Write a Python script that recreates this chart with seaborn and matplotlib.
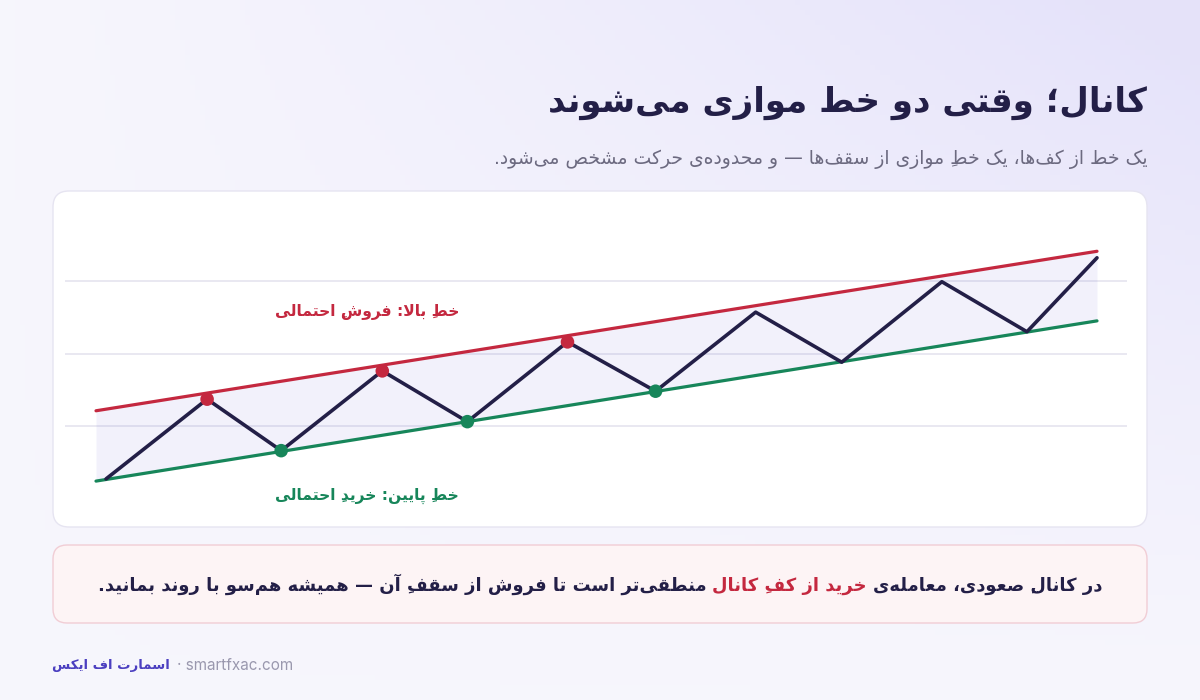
import numpy as np
import matplotlib
matplotlib.use("Agg")
import matplotlib.pyplot as plt
import seaborn as sns
import pandas as pd
from matplotlib.patches import FancyBboxPatch
from matplotlib.offsetbox import TextArea, HPacker, AnnotationBbox

# ---------------- data ----------------
zig_t = [1.0, 11.1, 18.5, 28.6, 37.1, 47.1, 55.9, 65.9, 74.5, 84.5, 93.0, 100.0]
zig_v = [0.27, 1.37, 0.66, 1.76, 1.06, 2.16, 1.48, 2.57, 1.88, 2.99, 2.30, 3.32]
peak_idx = [1, 3, 5]
trough_idx = [2, 4, 6]
channel_t = [0.0, 100.0]
upper_v = [1.21, 3.41]
lower_v = [0.24, 2.45]
grid_levels = [1, 2, 3]

title_txt = "کانال؛ وقتی دو خط موازی می‌شوند"
subtitle_txt = "یک خط از کف‌ها، یک خطِ موازی از سقف‌ها — و محدوده‌ی حرکت مشخص می‌شود."
upper_label = "خطِ بالا: فروشِ احتمالی"
lower_label = "خطِ پایین: خریدِ احتمالی"
note_parts = ["در کانالِ صعودی، معامله‌ی", "خرید از کفِ کانال",
              "منطقی‌تر است تا فروش از سقفِ آن — همیشه هم‌سو با روند بمانید."]
brand_txt = "اسمارت اف ایکس"
site_txt = "· smartfxac.com"

# ---------------- minimal Arabic/Persian shaping ----------------
FORMS = {
    '\u0627': ('\uFE8D', '\uFE8E', None, None),
    '\u0622': ('\uFE81', '\uFE82', None, None),
    '\u0628': ('\uFE8F', '\uFE90', '\uFE91', '\uFE92'),
    '\u067E': ('\uFB56', '\uFB57', '\uFB58', '\uFB59'),
    '\u062A': ('\uFE95', '\uFE96', '\uFE97', '\uFE98'),
    '\u062B': ('\uFE99', '\uFE9A', '\uFE9B', '\uFE9C'),
    '\u062C': ('\uFE9D', '\uFE9E', '\uFE9F', '\uFEA0'),
    '\u0686': ('\uFB7A', '\uFB7B', '\uFB7C', '\uFB7D'),
    '\u062D': ('\uFEA1', '\uFEA2', '\uFEA3', '\uFEA4'),
    '\u062E': ('\uFEA5', '\uFEA6', '\uFEA7', '\uFEA8'),
    '\u062F': ('\uFEA9', '\uFEAA', None, None),
    '\u0630': ('\uFEAB', '\uFEAC', None, None),
    '\u0631': ('\uFEAD', '\uFEAE', None, None),
    '\u0632': ('\uFEAF', '\uFEB0', None, None),
    '\u0698': ('\uFB8A', '\uFB8B', None, None),
    '\u0633': ('\uFEB1', '\uFEB2', '\uFEB3', '\uFEB4'),
    '\u0634': ('\uFEB5', '\uFEB6', '\uFEB7', '\uFEB8'),
    '\u0635': ('\uFEB9', '\uFEBA', '\uFEBB', '\uFEBC'),
    '\u0636': ('\uFEBD', '\uFEBE', '\uFEBF', '\uFEC0'),
    '\u0637': ('\uFEC1', '\uFEC2', '\uFEC3', '\uFEC4'),
    '\u0638': ('\uFEC5', '\uFEC6', '\uFEC7', '\uFEC8'),
    '\u0639': ('\uFEC9', '\uFECA', '\uFECB', '\uFECC'),
    '\u063A': ('\uFECD', '\uFECE', '\uFECF', '\uFED0'),
    '\u0641': ('\uFED1', '\uFED2', '\uFED3', '\uFED4'),
    '\u0642': ('\uFED5', '\uFED6', '\uFED7', '\uFED8'),
    '\u06A9': ('\uFB8E', '\uFB8F', '\uFB90', '\uFB91'),
    '\u06AF': ('\uFB92', '\uFB93', '\uFB94', '\uFB95'),
    '\u0644': ('\uFEDD', '\uFEDE', '\uFEDF', '\uFEE0'),
    '\u0645': ('\uFEE1', '\uFEE2', '\uFEE3', '\uFEE4'),
    '\u0646': ('\uFEE5', '\uFEE6', '\uFEE7', '\uFEE8'),
    '\u0647': ('\uFEE9', '\uFEEA', '\uFEEB', '\uFEEC'),
    '\u0648': ('\uFEED', '\uFEEE', None, None),
    '\u06CC': ('\uFBFC', '\uFBFD', '\uFBFE', '\uFBFF'),
}
LAMALEF = {'\u0627': ('\uFEFB', '\uFEFC'), '\u0622': ('\uFEF5', '\uFEF6')}


def is_mark(c):
    return '\u064B' <= c <= '\u065F' or c == '\u0670'


def shape(s):
    ch = list(s)
    n = len(ch)
    out = []
    i = 0
    while i < n:
        c = ch[i]
        if c not in FORMS:
            if c != '\u200c':
                out.append(c)
            i += 1
            continue
        j = i - 1
        while j >= 0 and is_mark(ch[j]):
            j -= 1
        p = ch[j] if j >= 0 else None
        jp = p in FORMS and FORMS[p][2] is not None
        k = i + 1
        while k < n and is_mark(ch[k]):
            k += 1
        nx = ch[k] if k < n else None
        if c == '\u0644' and nx in LAMALEF:
            iso, fin = LAMALEF[nx]
            out.append(fin if jp else iso)
            for m in ch[i + 1:k]:
                out.append(m)
            i = k + 1
            continue
        jn = FORMS[c][2] is not None and nx in FORMS
        f = FORMS[c]
        if jp and jn:
            g = f[3]
        elif jp:
            g = f[1]
        elif jn:
            g = f[2]
        else:
            g = f[0]
        out.append(g)
        i += 1
    # visual order: reverse everything (marks end up just before their base)
    return ''.join(reversed(out))


# ---------------- style ----------------
sns.set_theme(style="white")
plt.rcParams['font.family'] = ['DejaVu Sans']

NAVY = "#231f47"
RED = "#c4283f"
GREEN = "#17865a"
GRAY = "#6c6a80"
PURPLE = "#4b3fc0"

fig = plt.figure(figsize=(12, 7), dpi=100)

# background (pixel coordinates, y downward)
bg = fig.add_axes([0, 0, 1, 1], zorder=0)
bg.set_xlim(0, 1200)
bg.set_ylim(700, 0)
bg.axis('off')
xx, yy = np.meshgrid(np.linspace(0, 1, 240), np.linspace(0, 1, 140))
w = np.clip(xx * (1 - yy) * 1.1, 0, 1) ** 1.2
c0 = np.array([0.968, 0.965, 0.992])
c1 = np.array([0.900, 0.890, 0.980])
img = c0[None, None, :] * (1 - w[..., None]) + c1[None, None, :] * w[..., None]
bg.imshow(img, extent=[0, 1200, 700, 0], aspect='auto', zorder=0)

card = FancyBboxPatch((53, 191), 1094, 336, boxstyle="round,pad=0,rounding_size=16",
                      fc="white", ec="#e6e4f1", lw=1.0, zorder=1)
bg.add_patch(card)
note_box = FancyBboxPatch((53, 545), 1094, 78, boxstyle="round,pad=0,rounding_size=14",
                          fc="#fdf4f5", ec="#f1cdd5", lw=1.0, zorder=1)
bg.add_patch(note_box)

# title & subtitle
bg.text(1147, 103, shape(title_txt), ha='right', va='center', fontsize=24.5,
        fontweight='bold', color=NAVY, zorder=3)
bg.text(1147, 159, shape(subtitle_txt), ha='right', va='center', fontsize=13.5,
        color=GRAY, zorder=3)

# callout with highlighted segment (visual order left -> right)
tp_n = dict(fontsize=12.9, fontweight='bold', color=NAVY, family=['DejaVu Sans'])
tp_r = dict(fontsize=12.9, fontweight='bold', color=RED, family=['DejaVu Sans'])
boxes = [TextArea(shape(note_parts[2]), textprops=tp_n),
         TextArea(shape(note_parts[1]), textprops=tp_r),
         TextArea(shape(note_parts[0]), textprops=tp_n)]
pack = HPacker(children=boxes, align='baseline', pad=0, sep=4.5)
ab = AnnotationBbox(pack, (600, 584), xycoords='data', box_alignment=(0.5, 0.5),
                    frameon=False, pad=0, zorder=4)
bg.add_artist(ab)

# footer
fb = [TextArea(shape(brand_txt), textprops=dict(fontsize=9.5, fontweight='bold', color=PURPLE,
                                                 family=['DejaVu Sans'])),
      TextArea(site_txt, textprops=dict(fontsize=11, color="#9a98ae", family=['Inter', 'DejaVu Sans']))]
fpack = HPacker(children=fb, align='baseline', pad=0, sep=5)
fab = AnnotationBbox(fpack, (52, 665), xycoords='data', box_alignment=(0, 0.5),
                     frameon=False, pad=0, zorder=4)
bg.add_artist(fab)

# ---------------- chart ----------------
# axes spans x pixels 65..1127, y pixels 208.5..498.5
ax = fig.add_axes([65 / 1200, (700 - 498.5) / 700, 1062 / 1200, 290 / 700], zorder=2)
ax.patch.set_alpha(0)
ax.set_xlim((65 - 96) / 10.01, (1127 - 96) / 10.01)
ax.set_ylim(0, 4)
for s in ax.spines.values():
    s.set_visible(False)
ax.set_xticks([])
ax.set_yticks([])

for g in grid_levels:
    ax.axhline(g, color="#e7e6f0", lw=1.3, zorder=0)

ax.fill_between(channel_t, lower_v, upper_v, color="#5b4fd0", alpha=0.08, lw=0, zorder=1)

chan = pd.DataFrame({"t": channel_t * 2, "v": upper_v + lower_v,
                     "line": ["upper"] * 2 + ["lower"] * 2})
sns.lineplot(data=chan, x="t", y="v", hue="line", palette={"upper": RED, "lower": GREEN},
             lw=2.3, legend=False, ax=ax, zorder=2, estimator=None, sort=False)

zig = pd.DataFrame({"t": zig_t, "v": zig_v})
sns.lineplot(data=zig, x="t", y="v", color=NAVY, lw=2.6, ax=ax, zorder=3,
             estimator=None, sort=False)

peaks = zig.iloc[peak_idx]
troughs = zig.iloc[trough_idx]
sns.scatterplot(data=peaks, x="t", y="v", color=RED, s=95, edgecolor='none', ax=ax, zorder=4)
sns.scatterplot(data=troughs, x="t", y="v", color=GREEN, s=95, edgecolor='none', ax=ax, zorder=4)

ax.text(27.1, 2.57, shape(upper_label), ha='center', va='center', fontsize=11.2,
        fontweight='bold', color=RED, zorder=5)
ax.text(27.1, 0.03, shape(lower_label), ha='center', va='center', fontsize=11.2,
        fontweight='bold', color=GREEN, zorder=5)
ax.set_xlabel("")
ax.set_ylabel("")

fig.savefig("out.png", dpi=100)
